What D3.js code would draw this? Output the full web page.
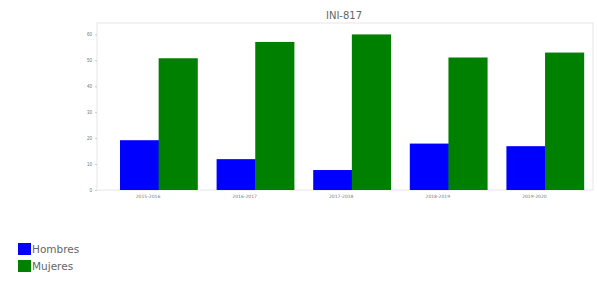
<!DOCTYPE html>
<html>
<head>
<meta charset="utf-8">
<script src="https://cdn.jsdelivr.net/npm/d3@7"></script>
<style>
body { margin: 0; background: #fff; font-family: "DejaVu Sans", sans-serif; }
svg { display: block; }
</style>
</head>
<body>
<svg width="597" height="286"></svg>
<script>
var title = "INI-817";
var periods = ["2015-2016", "2016-2017", "2017-2018", "2018-2019", "2019-2020"];
var hombres = [19.2, 11.9, 7.7, 17.9, 16.9];
var mujeres = [50.8, 57.1, 60.0, 51.1, 53.0];
var yTicks = [0, 10, 20, 30, 40, 50, 60];
var seriesNames = ["Hombres", "Mujeres"];
var seriesColors = ["#0000ff", "#008000"];

var svg = d3.select("svg");

var plotLeft = 97, plotRight = 593, plotTop = 23, plotBottom = 190;

var x = d3.scaleBand()
  .domain(periods)
  .range([120 - 9.65, 120 - 9.65 + 96.6 * 5])
  .paddingInner(0.2)
  .paddingOuter(0.1);

var x1 = d3.scaleBand()
  .domain(seriesNames)
  .range([0, x.bandwidth()]);

var y = d3.scaleLinear()
  .domain([0, 64.4])
  .range([plotBottom, plotTop]);

// frame
svg.append("rect")
  .attr("x", plotLeft).attr("y", plotTop)
  .attr("width", plotRight - plotLeft).attr("height", plotBottom - plotTop)
  .attr("fill", "none")
  .attr("stroke", "#e6e6e6");

// y axis
var yAxis = d3.axisLeft(y).tickValues(yTicks).tickSize(2).tickPadding(3);
var gy = svg.append("g").attr("transform", "translate(" + plotLeft + ",0)").call(yAxis);
gy.select(".domain").remove();
gy.selectAll("line").attr("stroke", "#ccc");
gy.selectAll("text").attr("font-size", 4.5).attr("fill", "#777");

// bars
var groups = svg.append("g").selectAll("g")
  .data(periods)
  .enter().append("g")
  .attr("transform", d => "translate(" + x(d) + ",0)");

groups.selectAll("rect")
  .data((d, i) => [
    {name: "Hombres", value: hombres[i]},
    {name: "Mujeres", value: mujeres[i]}
  ])
  .enter().append("rect")
  .attr("x", d => x1(d.name))
  .attr("y", d => y(d.value))
  .attr("width", x1.bandwidth() + 0.5)
  .attr("height", d => y(0) - y(d.value))
  .attr("fill", (d, i) => seriesColors[i]);

// x labels
svg.append("g").selectAll("text")
  .data(periods)
  .enter().append("text")
  .attr("x", d => x(d) + 28)
  .attr("y", plotBottom + 8)
  .attr("text-anchor", "middle")
  .attr("font-size", 4.5)
  .attr("fill", "#777")
  .text(d => d);

// title
svg.append("text")
  .attr("x", 344)
  .attr("y", 19)
  .attr("text-anchor", "middle")
  .attr("font-size", 10)
  .attr("fill", "#666")
  .text(title);

// legend
var legend = svg.append("g").attr("transform", "translate(18,243)");
var items = legend.selectAll("g")
  .data(seriesNames)
  .enter().append("g")
  .attr("transform", (d, i) => "translate(0," + i * 17 + ")");
items.append("rect")
  .attr("width", 13).attr("height", 12)
  .attr("fill", (d, i) => seriesColors[i]);
items.append("text")
  .attr("x", 14)
  .attr("y", 10)
  .attr("font-size", 10.5)
  .attr("fill", "#666")
  .text(d => d);
</script>
</body>
</html>
